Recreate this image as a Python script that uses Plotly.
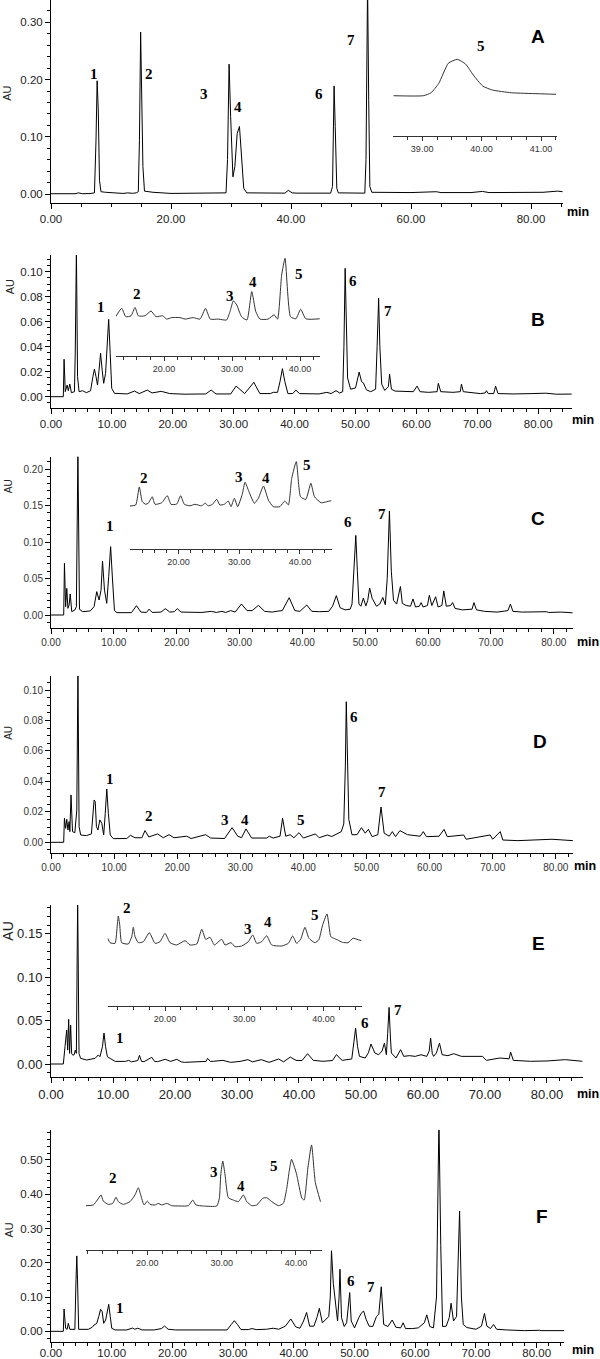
import plotly.graph_objects as go

# ---------------- data (retention time in min, absorbance in AU) ----------------
A_trace = [(0, 0.0005), (1.5, 0.0005), (2.4, 0.0015), (3.0, 0.0005), (3.5, 0.0008), (4.0, 0.0005), (4.6, 0.002),
           (5.2, 0.0005), (6.5, 0.0008), (7.24, 0.002), (7.5, 0.094), (7.69, 0.198), (7.88, 0.147), (8.08, 0.024),
           (8.33, 0.004), (9.1, 0.003), (12.0, 0.001), (12.8, 0.002), (13.6, 0.0012), (14.2, 0.002), (14.55, 0.004),
           (14.74, 0.094), (14.94, 0.283), (15.13, 0.129), (15.32, 0.048), (15.58, 0.005), (17.0, 0.003), (20.0, 0.001),
           (28.5, 0.001), (29.17, 0.002), (29.42, 0.06), (29.68, 0.227), (29.94, 0.135), (30.32, 0.030), (30.64, 0.048),
           (31.03, 0.106), (31.41, 0.118), (31.73, 0.065), (32.12, 0.010), (32.63, 0.002), (38.5, 0.001), (39.0, 0.0015),
           (39.55, 0.0064), (40.2, 0.002), (41.0, 0.0015), (46.6, 0.0015), (46.92, 0.013), (47.18, 0.189), (47.37, 0.118),
           (47.63, 0.010), (47.88, 0.002), (52.3, 0.0015), (52.5, 0.06), (52.76, 0.37), (52.95, 0.164), (53.14, 0.013),
           (53.46, 0.003), (60, 0.0025), (64.2, 0.004), (65, 0.0025), (70, 0.0025), (71.9, 0.0045), (73, 0.0025),
           (78, 0.003), (80.3, 0.004), (82, 0.003), (84.4, 0.005), (85.3, 0.004)]
A_inset = [(38.52, 0.0015), (39.02, 0.0015), (39.15, 0.0019), (39.28, 0.00317), (39.44, 0.00586), (39.59, 0.0064),
           (39.73, 0.00577), (39.86, 0.00429), (40.02, 0.0028), (40.18, 0.00227), (40.5, 0.0019), (40.95, 0.00177),
           (41.25, 0.00169)]

B_trace = [(0, 0), (2.02, 0), (2.15, 0.030), (2.34, 0.004), (2.65, 0.0093), (2.84, 0.0048), (3.09, 0.0101),
           (3.35, 0.0032), (3.85, 0.004), (3.98, 0.035), (4.17, 0.118), (4.36, 0.016), (4.61, 0.004), (5.18, 0.0048),
           (5.81, 0.0032), (6.5, 0.0048), (6.88, 0.016), (7.13, 0.0221), (7.39, 0.016), (7.64, 0.0093), (7.89, 0.0213),
           (8.14, 0.0347), (8.4, 0.0213), (8.65, 0.0107), (8.96, 0.0187), (9.22, 0.040), (9.47, 0.0619), (9.72, 0.0347),
           (9.97, 0.0067), (10.42, 0.0027), (12.5, 0.0022), (13.7, 0.0045), (14.5, 0.0025), (15.8, 0.0053), (16.6, 0.003),
           (18.1, 0.0043), (19.5, 0.0025), (22, 0.002), (25.4, 0.0022), (26.3, 0.0053), (27.1, 0.0022), (29.5, 0.0022),
           (30.4, 0.0085), (31.8, 0.0025), (33.3, 0.0115), (34.3, 0.0025), (36.0, 0.0025), (36.5, 0.0035), (37.2, 0.0035),
           (37.6, 0.012), (38.0, 0.0224), (38.4, 0.012), (38.9, 0.0025), (39.7, 0.0025), (40.2, 0.0053), (40.8, 0.0025),
           (44, 0.0022), (45.3, 0.0035), (46.0, 0.0025), (46.8, 0.0048), (47.4, 0.003), (47.9, 0.004), (48.1, 0.04),
           (48.3, 0.1027), (48.5, 0.06), (48.7, 0.015), (49.2, 0.006), (50.0, 0.007), (50.6, 0.0197), (51.0, 0.012),
           (51.3, 0.011), (51.8, 0.0055), (52.5, 0.004), (53.3, 0.006), (53.55, 0.04), (53.8, 0.0787), (54.0, 0.04),
           (54.3, 0.01), (54.8, 0.005), (55.4, 0.008), (55.6, 0.018), (55.9, 0.006), (56.5, 0.0045), (58, 0.004),
           (59.5, 0.004), (60.1, 0.0085), (60.6, 0.004), (62, 0.0035), (63.4, 0.004), (63.6, 0.0107), (64.0, 0.004),
           (66, 0.0035), (67.2, 0.004), (67.4, 0.0101), (67.7, 0.004), (70.5, 0.0025), (71.3, 0.003), (71.5, 0.0048),
           (71.8, 0.0025), (72.7, 0.0025), (73.0, 0.0085), (73.4, 0.0025), (76, 0.0022), (79, 0.0025), (81.2, 0.0028),
           (83, 0.002), (85.5, 0.0021)]
B_inset = [(12.9, 0.0026), (13.78, 0.0054), (14.37, 0.0026), (15.15, 0.0029), (15.74, 0.0057), (16.22, 0.0029),
           (17.2, 0.0029), (18.09, 0.0045), (18.82, 0.0026), (19.8, 0.0029), (20.4, 0.0018), (21.1, 0.0023),
           (22.35, 0.0023), (23.1, 0.0018), (24.3, 0.0023), (25.3, 0.0018), (26.1, 0.0054), (26.8, 0.0018),
           (28.0, 0.0018), (29.2, 0.0015), (29.7, 0.0043), (30.2, 0.0079), (30.7, 0.0065), (31.4, 0.0026),
           (32.2, 0.0015), (32.9, 0.011), (33.5, 0.0043), (34.1, 0.0018), (35.3, 0.0018), (36.2, 0.0032),
           (36.7, 0.0018), (37.3, 0.0165), (37.8, 0.0221), (38.6, 0.0026), (39.4, 0.0019), (40.1, 0.0051),
           (40.85, 0.0019), (42.9, 0.0019)]

C_trace = [(0, 0), (2.02, 0), (2.14, 0.0708), (2.33, 0.0114), (2.51, 0.0365), (2.69, 0.0091), (2.88, 0.0137),
           (3.06, 0.0288), (3.3, 0.0046), (3.79, 0.0068), (4.04, 0.0114), (4.28, 0.225), (4.53, 0.0078), (5.02, 0.0046),
           (6.24, 0.0055), (6.85, 0.0114), (7.28, 0.032), (7.65, 0.0205), (7.96, 0.034), (8.2, 0.074), (8.51, 0.034),
           (8.87, 0.016), (9.18, 0.0525), (9.49, 0.0936), (9.79, 0.048), (10.1, 0.006), (10.5, 0.0032), (12.8, 0.0032),
           (13.6, 0.0128), (14.3, 0.004), (15.2, 0.0035), (15.6, 0.008), (16.1, 0.0035), (17.5, 0.004), (18.2, 0.0087),
           (18.9, 0.004), (19.6, 0.0045), (20.1, 0.0087), (20.7, 0.004), (24, 0.0035), (25.5, 0.005), (26.3, 0.0035),
           (27.2, 0.005), (27.8, 0.0035), (28.6, 0.006), (29.3, 0.004), (30.3, 0.015), (31.2, 0.006), (32.0, 0.006),
           (33.0, 0.0132), (34.0, 0.005), (35.2, 0.004), (35.8, 0.005), (36.8, 0.006), (37.9, 0.0237), (38.8, 0.006),
           (39.6, 0.005), (40.7, 0.0137), (41.5, 0.005), (42.7, 0.0045), (44.2, 0.005), (44.8, 0.012), (45.4, 0.0265),
           (46.0, 0.01), (46.8, 0.007), (47.6, 0.008), (47.9, 0.015), (48.2, 0.06), (48.5, 0.109), (48.75, 0.06),
           (49.0, 0.015), (49.3, 0.012), (49.7, 0.023), (50.1, 0.0125), (50.4, 0.02), (50.7, 0.037), (51.1, 0.023),
           (51.8, 0.012), (52.3, 0.015), (52.8, 0.024), (53.2, 0.014), (53.5, 0.05), (53.85, 0.1425), (54.15, 0.06),
           (54.5, 0.02), (55.0, 0.015), (55.3, 0.025), (55.6, 0.039), (55.9, 0.016), (56.5, 0.013), (57.2, 0.012),
           (57.6, 0.022), (58.0, 0.011), (58.6, 0.012), (58.9, 0.017), (59.2, 0.011), (59.9, 0.013), (60.2, 0.027),
           (60.6, 0.013), (61.2, 0.025), (61.6, 0.011), (62.2, 0.013), (62.5, 0.033), (62.9, 0.012), (63.6, 0.013),
           (63.9, 0.017), (64.3, 0.009), (65.5, 0.007), (67.0, 0.008), (67.3, 0.017), (67.7, 0.007), (69, 0.005),
           (71, 0.004), (72.7, 0.006), (73.1, 0.015), (73.5, 0.005), (75, 0.004), (78.8, 0.0045), (79.2, 0.0035),
           (81.2, 0.004), (83.0, 0.003)]
C_inset = [(12.01, 0.003), (12.95, 0.0035), (13.54, 0.0119), (14.04, 0.005), (14.6, 0.0038), (15.02, 0.0043),
           (15.68, 0.0073), (16.13, 0.0038), (17.23, 0.0045), (18.15, 0.0078), (18.76, 0.0038), (19.7, 0.0039),
           (20.36, 0.0078), (20.96, 0.0038), (21.9, 0.0031), (22.7, 0.0038), (23.8, 0.0031), (24.4, 0.0043),
           (24.9, 0.0031), (25.6, 0.0038), (26.3, 0.0061), (26.8, 0.0035), (27.55, 0.0038), (28.2, 0.0053),
           (28.65, 0.0027), (29.2, 0.0066), (29.75, 0.0027), (30.5, 0.0085), (30.96, 0.0141), (31.6, 0.0097),
           (32.5, 0.0043), (33.15, 0.0066), (34.0, 0.0123), (34.8, 0.0058), (35.6, 0.0027), (36.7, 0.0027),
           (37.5, 0.0053), (38.1, 0.0035), (38.65, 0.0159), (39.4, 0.0237), (40.1, 0.0073), (40.97, 0.0061),
           (41.8, 0.0136), (42.4, 0.0073), (43.5, 0.0045), (44.4, 0.005), (45.2, 0.0055)]

D_trace = [(0, 0), (2.01, 0), (2.13, 0.0158), (2.32, 0.0092), (2.5, 0.0151), (2.68, 0.0081), (2.87, 0.0136),
           (2.99, 0.007), (3.17, 0.0311), (3.41, 0.007), (3.78, 0.0063), (4.09, 0.0212), (4.27, 0.115), (4.45, 0.0103),
           (4.7, 0.0048), (5.61, 0.0044), (6.4, 0.0055), (6.65, 0.019), (6.83, 0.0278), (7.01, 0.0267), (7.2, 0.0103),
           (7.44, 0.0081), (7.74, 0.0147), (8.05, 0.0125), (8.35, 0.0048), (8.6, 0.019), (8.84, 0.035), (9.09, 0.019),
           (9.39, 0.0048), (9.88, 0.0024), (12.0, 0.0025), (12.6, 0.0046), (13.3, 0.003), (14.4, 0.003), (14.9, 0.0077),
           (15.5, 0.0035), (16.9, 0.0055), (17.8, 0.003), (18.7, 0.005), (19.5, 0.003), (21.5, 0.004), (22.2, 0.0025),
           (24.5, 0.005), (25.3, 0.0028), (27.5, 0.0025), (28.7, 0.0096), (29.6, 0.004), (30.2, 0.003), (30.9, 0.0088),
           (31.8, 0.0028), (34.2, 0.0028), (34.6, 0.004), (35.2, 0.0028), (36.3, 0.004), (36.7, 0.0158), (37.2, 0.004),
           (37.9, 0.005), (38.5, 0.003), (39.3, 0.0063), (40.0, 0.0028), (41.9, 0.0055), (42.5, 0.003), (43.8, 0.0048),
           (44.5, 0.0038), (45.3, 0.0055), (46.0, 0.007), (46.4, 0.012), (46.65, 0.05), (46.8, 0.0923), (47.0, 0.06),
           (47.2, 0.015), (47.7, 0.005), (48.5, 0.005), (49.2, 0.0096), (49.8, 0.006), (50.3, 0.0085), (50.9, 0.0037),
           (51.8, 0.005), (52.3, 0.0232), (52.8, 0.006), (53.6, 0.004), (54.1, 0.007), (54.6, 0.0037), (55.3, 0.0077),
           (56.5, 0.005), (58.5, 0.004), (59.0, 0.007), (59.5, 0.0037), (61.5, 0.004), (62.3, 0.0085), (62.8, 0.0037),
           (65.4, 0.0048), (65.8, 0.002), (69.6, 0.0048), (70.0, 0.002), (71.2, 0.007), (71.6, 0.0015), (74, 0.0011),
           (77, 0.0015), (79.4, 0.002), (82.7, 0.0011)]

E_trace = [(0, 0), (1.99, 0), (2.26, 0.020), (2.53, 0.039), (2.69, 0.016), (2.85, 0.0515), (3.0, 0.0123),
           (3.17, 0.045), (3.33, 0.012), (3.49, 0.0104), (3.71, 0.0104), (3.92, 0.016), (4.09, 0.0123), (4.3, 0.19),
           (4.52, 0.012), (4.78, 0.0065), (5.75, 0.0046), (7.1, 0.0065), (7.63, 0.0104), (7.9, 0.0084), (8.3, 0.02),
           (8.55, 0.0357), (8.8, 0.02), (9.09, 0.0084), (9.52, 0.0065), (9.74, 0.0054), (10.36, 0.003), (12.0, 0.003),
           (12.53, 0.0042), (13.0, 0.0025), (14.0, 0.004), (14.27, 0.010), (14.6, 0.003), (15.0, 0.0027), (16.25, 0.0077),
           (16.7, 0.003), (17.18, 0.0027), (18.42, 0.0054), (19.3, 0.003), (20.29, 0.0054), (21.0, 0.0025),
           (21.53, 0.0019), (23.08, 0.0027), (25.0, 0.003), (25.25, 0.0065), (25.7, 0.003), (26.18, 0.0031),
           (27.73, 0.0042), (28.97, 0.0019), (30.5, 0.003), (31.76, 0.005), (32.5, 0.0025), (33.93, 0.005),
           (35.17, 0.0019), (36.72, 0.0058), (37.5, 0.0025), (38.59, 0.008), (39.52, 0.0042), (40.5, 0.004),
           (41.38, 0.0119), (42.31, 0.0042), (43.86, 0.0031), (45.4, 0.004), (46.03, 0.0107), (46.96, 0.0042),
           (48.51, 0.0058), (48.85, 0.025), (49.13, 0.0414), (49.45, 0.02), (49.75, 0.0088), (50.68, 0.0069),
           (51.2, 0.013), (51.61, 0.023), (52.23, 0.0127), (52.85, 0.0107), (53.4, 0.015), (53.78, 0.0242),
           (54.09, 0.0107), (54.3, 0.035), (54.53, 0.0652), (54.75, 0.03), (54.9, 0.0127), (55.65, 0.0069),
           (56.39, 0.0165), (56.89, 0.0088), (57.82, 0.0096), (58.75, 0.0088), (59.68, 0.0107), (60.61, 0.0088),
           (61.0, 0.015), (61.23, 0.0299), (61.5, 0.012), (61.72, 0.0088), (62.16, 0.0127), (62.66, 0.024),
           (63.09, 0.0107), (64.02, 0.0096), (64.95, 0.0119), (66.19, 0.0088), (68.36, 0.0088), (69.6, 0.0088),
           (70.22, 0.0042), (72.39, 0.0069), (73.9, 0.006), (74.13, 0.0138), (74.57, 0.0042), (77.36, 0.0031),
           (80, 0.0035), (82.94, 0.005), (85.73, 0.0031)]
E_inset = [(12.77, 0.00495), (13.06, 0.00367), (13.69, 0.00348), (13.98, 0.0088), (14.11, 0.01142), (14.29, 0.0088),
           (14.54, 0.00367), (15.37, 0.00329), (15.8, 0.00541), (16.0, 0.00814), (16.22, 0.00541), (16.64, 0.00367),
           (17.27, 0.00396), (18.02, 0.00657), (18.74, 0.00348), (19.37, 0.00396), (20.0, 0.0064), (20.63, 0.00367),
           (21.47, 0.003), (22.52, 0.00425), (23.15, 0.003), (24.0, 0.00329), (24.63, 0.00756), (25.13, 0.00465),
           (25.67, 0.00524), (26.22, 0.003), (27.15, 0.00465), (27.57, 0.003), (28.32, 0.00367), (28.83, 0.00251),
           (29.67, 0.00271), (30.5, 0.00396), (31.06, 0.0059), (31.56, 0.00348), (32.19, 0.00396), (32.82, 0.0057),
           (33.45, 0.003), (34.72, 0.00271), (35.55, 0.00348), (36.1, 0.00561), (36.6, 0.00348), (37.1, 0.00465),
           (37.65, 0.00814), (38.15, 0.00495), (38.9, 0.00367), (39.4, 0.0045), (39.84, 0.00852), (40.43, 0.0120),
           (40.91, 0.00541), (41.29, 0.00495), (41.78, 0.00445), (42.36, 0.00378), (43.08, 0.00367), (43.7, 0.00495),
           (44.21, 0.00465), (44.78, 0.00425)]

F_trace = [(0, 0), (2.03, 0), (2.15, 0.065), (2.41, 0.0088), (2.66, 0.0058), (2.85, 0.0233), (3.1, 0.0058),
           (3.93, 0.0058), (4.12, 0.15), (4.25, 0.22), (4.37, 0.15), (4.56, 0.0058), (6.15, 0.0058), (6.78, 0.0117),
           (7.1, 0.0185), (7.54, 0.0233), (7.86, 0.043), (8.17, 0.0642), (8.43, 0.057), (8.68, 0.0233), (9.0, 0.033),
           (9.25, 0.0623), (9.51, 0.0788), (9.76, 0.043), (10.01, 0.0088), (10.58, 0.0039), (12.5, 0.004),
           (13.4, 0.0095), (13.8, 0.006), (14.3, 0.009), (15.0, 0.004), (17.0, 0.004), (18.2, 0.008), (18.7, 0.0156),
           (19.3, 0.006), (20.5, 0.004), (22.4, 0.004), (25.9, 0.004), (26.3, 0.006), (27.0, 0.004), (29.0, 0.004),
           (29.7, 0.02), (30.2, 0.031), (30.7, 0.02), (31.3, 0.005), (32.5, 0.005), (33.1, 0.008), (33.8, 0.005),
           (35.5, 0.006), (36.6, 0.009), (37.5, 0.006), (38.6, 0.015), (39.5, 0.036), (40.3, 0.013), (41.0, 0.009),
           (41.6, 0.03), (42.1, 0.055), (42.6, 0.015), (43.3, 0.015), (43.8, 0.04), (44.2, 0.067), (44.7, 0.025),
           (45.2, 0.033), (45.75, 0.043), (46.0, 0.1), (46.2, 0.235), (46.5, 0.14), (46.8, 0.09), (47.2, 0.03),
           (47.45, 0.1), (47.6, 0.181), (47.85, 0.04), (48.3, 0.014), (48.7, 0.025), (49.0, 0.07), (49.2, 0.113),
           (49.45, 0.03), (50.0, 0.01), (50.7, 0.04), (51.2, 0.055), (51.5, 0.059), (51.9, 0.035), (52.4, 0.015),
           (53.0, 0.014), (53.6, 0.043), (54.0, 0.05), (54.4, 0.13), (54.8, 0.02), (55.5, 0.014), (56.2, 0.033),
           (56.8, 0.012), (57.6, 0.01), (58.0, 0.025), (58.4, 0.008), (59.5, 0.008), (60.5, 0.01), (61.5, 0.025),
           (61.9, 0.048), (62.4, 0.014), (63.0, 0.01), (63.5, 0.1), (63.9, 0.62), (64.2, 0.25), (64.5, 0.014),
           (65.1, 0.015), (65.6, 0.04), (65.9, 0.082), (66.3, 0.03), (66.8, 0.043), (67.1, 0.2), (67.3, 0.351),
           (67.6, 0.1), (67.9, 0.02), (68.5, 0.011), (70.0, 0.006), (70.9, 0.015), (71.4, 0.052), (71.8, 0.015),
           (72.4, 0.008), (72.9, 0.02), (73.4, 0.006), (75, 0.004), (78, 0.002), (80.5, 0.003), (80.7, 0.002),
           (84.5, 0.002)]
F_inset = [(11.75, 0.004), (12.73, 0.0045), (13.27, 0.0079), (13.77, 0.0114), (14.08, 0.0072), (14.75, 0.0049),
           (15.34, 0.0056), (15.79, 0.0098), (16.1, 0.0068), (16.77, 0.0049), (17.67, 0.0068), (18.34, 0.0114),
           (18.79, 0.0164), (19.11, 0.0114), (19.56, 0.0045), (20.0, 0.0072), (20.36, 0.0049), (21.04, 0.0045),
           (21.48, 0.0056), (21.94, 0.0045), (22.61, 0.0056), (23.28, 0.004), (24.4, 0.0038), (25.52, 0.004),
           (26.11, 0.0079), (26.55, 0.0045), (27.54, 0.0038), (29.34, 0.0038), (29.69, 0.0091), (29.88, 0.0252),
           (30.15, 0.0348), (30.46, 0.0252), (30.9, 0.0095), (31.57, 0.0079), (32.25, 0.0068), (32.92, 0.0114),
           (33.38, 0.0068), (34.05, 0.004), (34.72, 0.0045), (35.53, 0.0091), (36.07, 0.0095), (36.74, 0.0068),
           (37.63, 0.004), (38.3, 0.0056), (38.76, 0.016), (39.11, 0.0286), (39.4, 0.036), (40.05, 0.0263),
           (40.8, 0.0091), (41.1, 0.0079), (41.6, 0.03), (42.1, 0.0459), (42.6, 0.02), (43.3, 0.0068)]

PANEL_LETTERS = ["A", "B", "C", "D", "E", "F"]

# ---------------- layout helpers ----------------
W, H = 600, 1359


def fx(p):
    return p / W


def fy(p):
    return 1 - p / H


fig = go.Figure()
layout = {}
ann = []
count = [0]


def axis_names():
    count[0] += 1
    n = count[0]
    s = "" if n == 1 else str(n)
    return "xaxis" + s, "yaxis" + s, "x" + s, "y" + s


def add_main(pts, xpx, ypx, xr, yr, xd, xm, yd, ym, tfont, standoff=0):
    xa, ya, xref, yref = axis_names()
    fig.add_trace(go.Scatter(x=[p[0] for p in pts], y=[p[1] for p in pts], mode="lines",
                             line=dict(color="black", width=1), xaxis=xref, yaxis=yref,
                             hoverinfo="skip", showlegend=False))
    common = dict(showline=True, linecolor="black", linewidth=1, ticks="outside", ticklen=5,
                  tickcolor="black", tickwidth=1, showgrid=False, zeroline=False, automargin=False,
                  tickformat=".2f", tickfont=tfont)
    layout[xa] = dict(domain=[fx(xpx[0]), fx(xpx[1])], range=xr, anchor=yref, dtick=xd, tick0=0,
                      ticklabelstandoff=standoff,
                      minor=dict(dtick=xm, tick0=0, ticks="outside", ticklen=3, tickcolor="black"),
                      **common)
    layout[ya] = dict(domain=[fy(ypx[1]), fy(ypx[0])], range=yr, anchor=xref, dtick=yd, tick0=0,
                      minor=dict(dtick=ym, tick0=0, ticks="outside", ticklen=3, tickcolor="black"),
                      **common)


def add_inset(pts, xpx, ypx, xr, yr, xd, xm):
    xa, ya, xref, yref = axis_names()
    fig.add_trace(go.Scatter(x=[p[0] for p in pts], y=[p[1] for p in pts], mode="lines",
                             line=dict(color="#333333", width=1, shape="spline", smoothing=0.5),
                             xaxis=xref, yaxis=yref, hoverinfo="skip", showlegend=False))
    layout[xa] = dict(domain=[fx(xpx[0]), fx(xpx[1])], range=xr, anchor=yref, dtick=xd, tick0=0,
                      showline=True, linecolor="#333333", linewidth=1, ticks="outside", ticklen=4,
                      tickcolor="#333333", showgrid=False, zeroline=False, tickformat=".2f", automargin=False,
                      tickfont=dict(family="Liberation Sans", size=9, color="#333333"),
                      minor=dict(dtick=xm, tick0=0, ticks="outside", ticklen=3, tickcolor="#333333"))
    layout[ya] = dict(domain=[fy(ypx[1]), fy(ypx[0])], range=yr, anchor=xref, visible=False,
                      showgrid=False, zeroline=False, automargin=False)


def label(text, x, y, size=16, family="Liberation Serif", bold=True, angle=0, color="black"):
    t = "<b>%s</b>" % text if bold else text
    ann.append(dict(text=t, x=fx(x), y=fy(y), xref="paper", yref="paper", showarrow=False,
                    xanchor="center", yanchor="middle", textangle=angle,
                    font=dict(family=family, size=size, color=color)))


f_std = dict(family="Liberation Sans", size=11.5, color="#222222")
f_thin = dict(family="Liberation Sans", size=10, color="#333333")
f_big = dict(family="Liberation Sans", size=13, color="#222222")

# Panel A
add_main(A_trace, (51, 562.7), (0, 203), [0, 85.28], [-0.01573, 0.3392], 20, 5, 0.1, 0.02, f_std)
add_inset(A_inset, (393, 556.5), (40, 135.7), [38.51, 41.26], [-0.00388, 0.0090], 1, 0.25)
# Panel B
add_main(B_trace, (51, 572), (255, 408), [0, 85.55], [-0.00904, 0.11336], 10, 2, 0.02, 0.005, f_std)
add_inset(B_inset, (116, 320), (250, 355.7), [12.94, 42.94], [-0.01044, 0.0249], 10, 2)
# Panel C
add_main(C_trace, (51, 573), (456.7, 628.3), [0, 83.06], [-0.01822, 0.21685], 10, 2, 0.05, 0.01, f_thin)
add_inset(C_inset, (130, 331.5), (455, 549.3), [12.01, 45.2], [-0.0172, 0.0268], 10, 2)
# Panel D
add_main(D_trace, (51, 573), (676, 853.3), [0, 82.73], [-0.00722, 0.1092], 10, 2, 0.02, 0.005, f_thin)
# Panel E
add_main(E_trace, (51, 582.7), (905, 1077.3), [0, 85.76], [-0.01532, 0.1832], 10, 2, 0.05, 0.01, f_big)
add_inset(E_inset, (107.7, 361.5), (905, 1006), [12.77, 44.78], [-0.01471, 0.01461], 10, 2)
# Panel F
add_main(F_trace, (51, 564), (1130, 1341.7), [0, 84.5], [-0.0303, 0.5874], 10, 2, 0.1, 0.02, f_std, standoff=-5)
add_inset(F_inset, (86, 322), (1140, 1250), [11.75, 43.5], [-0.02655, 0.0493], 10, 2)

# peak number labels
peak_labels = [
    ("1", 94.2, 74), ("2", 149.2, 74), ("3", 203.8, 94), ("4", 237.7, 106.7), ("6", 319.2, 94), ("7", 351.2, 40),
    ("5", 480.8, 45.7),
    ("1", 100.8, 307.3), ("2", 137.3, 294), ("3", 230, 296), ("4", 253, 281.7), ("5", 299.2, 274), ("6", 353, 281),
    ("7", 387.7, 310.7),
    ("1", 110.4, 526), ("2", 144.2, 478.3), ("3", 239.2, 476.7), ("4", 266.2, 478.3), ("5", 306.5, 465),
    ("6", 348, 521.7), ("7", 381.5, 514),
    ("1", 109.6, 779), ("2", 149.2, 816), ("3", 225, 820), ("4", 245.4, 820), ("5", 300.8, 820), ("6", 353.8, 717.3),
    ("7", 382, 792.3),
    ("1", 120, 1037.7), ("2", 126.7, 908.3), ("3", 247.7, 929.3), ("4", 268.3, 921.7), ("5", 315, 915),
    ("6", 365.4, 1023.3), ("7", 398, 1010),
    ("1", 120, 1308.3), ("2", 112.7, 1178.3), ("3", 214, 1172.3), ("4", 240.7, 1185.7), ("5", 274, 1165.7),
    ("6", 350.8, 1280.7), ("7", 371.2, 1286.7),
]
for t, x, y in peak_labels:
    label(t, x, y, size=15)

letter_pos = [(537.7, 36), (537.7, 319.3), (537.7, 518.3), (540.4, 741.7), (538.5, 943.3), (541.5, 1216)]
for L, (x, y) in zip(PANEL_LETTERS, letter_pos):
    label(L, x, y, size=19, family="Liberation Sans")

min_pos = [(578, 211.7), (583, 420), (588, 642.3), (585, 865.7), (588, 1094.3), (583, 1350)]
for x, y in min_pos:
    label("min", x, y, size=12.5, family="Liberation Sans")

au_pos = [(7.5, 93.3, 11), (9.6, 286.7, 11), (8.5, 486.7, 10), (8.5, 733.3, 10), (8, 931.7, 14), (8.5, 1230, 11)]
for x, y, s in au_pos:
    label("AU", x, y, size=s, family="Liberation Sans", bold=False, angle=-90, color="#222222")

fig.update_layout(width=W, height=H, margin=dict(l=0, r=0, t=0, b=0, autoexpand=False),
                  paper_bgcolor="white", plot_bgcolor="white", showlegend=False, annotations=ann, **layout)
fig.write_html("out.html", config={"displayModeBar": False, "staticPlot": True},
               post_script="document.body.style.margin='0';document.body.style.overflow='hidden';")
